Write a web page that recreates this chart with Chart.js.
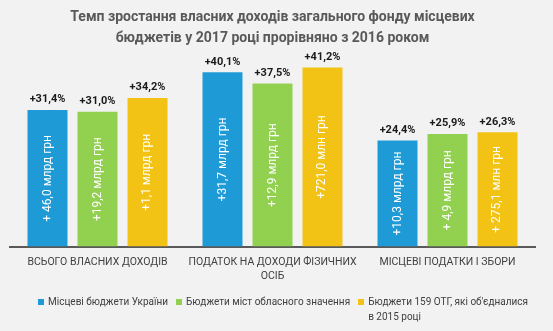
<!DOCTYPE html>
<html>
<head>
<meta charset="utf-8">
<script src="https://cdn.jsdelivr.net/npm/chart.js@4.4.1/dist/chart.umd.min.js"></script>
<style>
  body { margin: 0; background: #f2f2f2; }
  #wrap { position: relative; width: 553px; height: 331px; }
  #legend { position: absolute; left: 38px; top: 294px; width: 510px; display: flex; align-items: flex-start; font-family: Roboto, sans-serif; font-size: 10px; color: #404040; line-height: 15px; }
  #legend .item { flex: none; display: flex; align-items: flex-start; margin-right: 8px; }
  #legend .item span { white-space: nowrap; }
  #legend i { flex: none; width: 6px; height: 6px; margin: 5px 4px 0 0; }
  #legend .item:last-child span { white-space: normal; width: 160px; }
</style>
</head>
<body>
<div id="wrap">
  <canvas id="chart" width="553" height="331"></canvas>
  <div id="legend"></div>
</div>
<script>
// Categories and values (growth %, 2017 vs 2016)
const categories = [
  ['ВСЬОГО ВЛАСНИХ ДОХОДІВ'],
  ['ПОДАТОК НА ДОХОДИ ФІЗИЧНИХ', 'ОСІБ'],
  ['МІСЦЕВІ ПОДАТКИ І ЗБОРИ']
];
const localBudgets = [31.4, 40.1, 24.4];
const cityBudgets = [31.0, 37.5, 25.9];
const otgBudgets = [34.2, 41.2, 26.3];

// Absolute increase labels inside bars
const localAmounts = ['+ 46,0 млрд грн', '+31,7 млрд грн', '+10,3 млрд грн'];
const cityAmounts = ['+19,2 млрд грн', '+12,9 млрд грн', '+ 4,9 млрд грн'];
const otgAmounts = ['+1,1 млрд грн', '+721,0 млн грн', '+ 275,1 млн грн'];

const seriesNames = ['Місцеві бюджети України', 'Бюджети міст обласного значення', 'Бюджети 159 ОТГ, які об\'єдналися в 2015 році'];
const colors = ['#1e9bd7', '#92d050', '#f2c314'];

const FONT = 'Roboto, sans-serif';

// Draw percent above bars and amounts rotated inside
const barLabels = {
  id: 'barLabels',
  afterDatasetsDraw(chart) {
    const ctx = chart.ctx;
    const amounts = [localAmounts, cityAmounts, otgAmounts];
    chart.data.datasets.forEach((ds, di) => {
      chart.getDatasetMeta(di).data.forEach((bar, i) => {
        const v = ds.data[i];
        ctx.save();
        ctx.fillStyle = '#1a1a1a';
        ctx.font = 'bold 11px ' + FONT;
        ctx.textAlign = 'center';
        ctx.textBaseline = 'bottom';
        ctx.fillText('+' + v.toFixed(1).replace('.', ',') + '%', bar.x, bar.y - 5);
        ctx.translate(bar.x, (bar.y + bar.base) / 2);
        ctx.rotate(-Math.PI / 2);
        ctx.fillStyle = '#ffffff';
        ctx.font = '12px ' + FONT;
        ctx.textBaseline = 'middle';
        ctx.fillText(amounts[di][i], 0, 0);
        ctx.restore();
      });
    });
  }
};

const ctx = document.getElementById('chart').getContext('2d');
const chart = new Chart(ctx, {
  type: 'bar',
  data: {
    labels: categories,
    datasets: [
      { label: seriesNames[0], data: localBudgets, backgroundColor: colors[0] },
      { label: seriesNames[1], data: cityBudgets, backgroundColor: colors[1] },
      { label: seriesNames[2], data: otgBudgets, backgroundColor: colors[2] }
    ]
  },
  options: {
    responsive: false,
    animation: false,
    categoryPercentage: 0.857,
    barPercentage: 0.8,
    layout: { padding: { left: 10, right: 18, top: 0, bottom: 39 } },
    plugins: {
      legend: { display: false },
      tooltip: { enabled: false },
      title: {
        display: true,
        text: ['Темп зростання власних доходів загального фонду місцевих', 'бюджетів у 2017 році прорівняно з 2016 роком'],
        color: '#595959',
        font: { family: FONT, size: 14, weight: 'bold', lineHeight: 1.5 },
        padding: { top: 7, bottom: 2 }
      }
    },
    scales: {
      x: {
        grid: { display: false, drawTicks: false },
        border: { color: '#595959', width: 2 },
        ticks: { color: '#404040', font: { family: FONT, size: 10.5, lineHeight: 1.4 }, padding: 8, maxRotation: 0, autoSkip: false }
      },
      y: {
        display: false,
        min: 0,
        max: 45
      }
    }
  },
  plugins: [barLabels]
});

// HTML legend
const legend = document.getElementById('legend');
legend.innerHTML = seriesNames.map((n, i) =>
  '<div class="item"><i style="background:' + colors[i] + '"></i><span>' + n + '</span></div>'
).join('');
</script>
</body>
</html>
